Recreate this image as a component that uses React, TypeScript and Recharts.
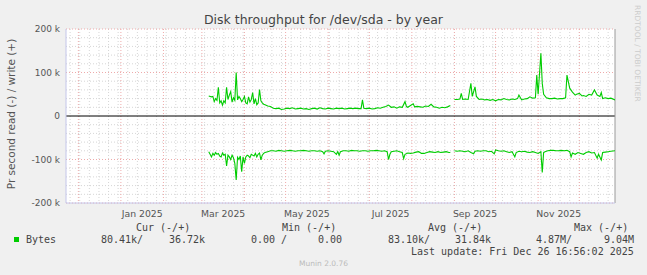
import React from 'react';
import { LineChart, Line, XAxis, YAxis, CartesianGrid, ReferenceLine } from 'recharts';

// x axis is "days since 2024-11-22", the munin year view covers 400 days up to Dec 26 2025
const DAYS = 400;
const monthStarts = [9, 40, 71, 99, 130, 160, 191, 221, 252, 283, 313, 344, 374, 405];
const monthLabels = ['Jan 2025', 'Mar 2025', 'May 2025', 'Jul 2025', 'Sep 2025', 'Nov 2025'];
const labelMonthIdx = [1, 3, 5, 7, 9, 11];
const firstMonday = 3;

const yTicks = [-200000, -100000, 0, 100000, 200000];

// write (+), kB/s per day, null = no data
const writeSeries: [number, number | null][] = [
  [104, 46], [106, 44], [107, 45], [108, 33], [109, 40], [110, 36], [111, 66], [112, 30], [113, 35], [114, 25],
  [115, 35], [116, 30], [117, 66], [118, 38], [119, 48], [120, 56], [121, 32], [122, 42], [123, 36], [124, 100],
  [125, 37], [126, 45], [127, 40], [128, 33], [129, 38], [130, 45], [131, 30], [132, 28], [133, 44], [134, 32],
  [135, 38], [136, 54], [137, 28], [138, 40], [139, 26], [140, 30], [141, 61], [142, 35], [143, 30], [144, 27],
  [145, 26], [147, 23], [149, 22], [151, 18], [153, 17], [155, 18], [157, 15], [159, 16], [161, 18], [163, 17],
  [165, 19], [167, 16], [169, 17], [171, 18], [173, 16], [175, 17], [177, 15], [179, 17], [181, 18], [183, 16],
  [185, 19], [187, 17], [189, 16], [191, 18], [193, 17], [195, 16], [197, 18], [199, 17], [201, 18], [203, 16],
  [205, 17], [207, 18], [209, 17], [211, 18], [213, 17], [215, 17], [216, 37], [217, 18], [219, 17], [221, 18],
  [223, 16], [225, 17], [227, 19], [229, 18], [231, 20], [233, 22], [235, 25], [237, 20], [239, 21], [241, 18],
  [243, 21], [245, 20], [247, 33], [248, 22], [249, 20], [251, 24], [253, 28], [254, 21], [256, 22], [258, 21],
  [260, 20], [262, 23], [264, 22], [266, 27], [268, 21], [270, 20], [272, 18], [274, 20], [276, 19], [278, 21],
  [280, 24], [281, null], [283, 38], [285, 38], [287, 39], [288, 52], [289, 38], [291, 39], [293, 38], [295, 75],
  [296, 45], [298, 67], [299, 45], [301, 38], [303, 39], [305, 37], [307, 38], [309, 36], [311, 38], [313, 35],
  [315, 38], [317, 37], [319, 40], [321, 38], [323, 37], [325, 39], [327, 38], [329, 40], [330, 48], [332, 37],
  [334, 39], [336, 40], [338, 44], [340, 41], [342, 42], [343, 94], [344, 50], [346, 144], [347, 75], [348, 50],
  [350, 42], [352, 40], [354, 40], [356, 41], [358, 39], [360, 40], [362, 40], [364, 42], [365, 94], [367, 64],
  [369, 55], [371, 48], [372, 50], [374, 52], [376, 46], [377, 47], [379, 45], [381, 50], [383, 48], [385, 60],
  [387, 48], [389, 45], [390, 54], [391, 40], [393, 42], [395, 40], [397, 41], [400, 37],
];

// read (-), drawn below zero
const readSeries: [number, number | null][] = [
  [104, -82], [105, -88], [106, -94], [107, -86], [108, -90], [109, -84], [110, -88], [111, -86], [112, -92], [113, -94],
  [114, -85], [115, -90], [116, -88], [117, -115], [118, -90], [119, -94], [120, -100], [121, -90], [122, -96], [123, -109],
  [124, -147], [125, -95], [126, -100], [127, -92], [128, -128], [129, -94], [130, -109], [131, -94], [132, -90], [133, -92],
  [134, -96], [135, -88], [136, -90], [137, -92], [138, -86], [139, -94], [140, -88], [141, -85], [142, -101], [143, -90],
  [144, -86], [145, -84], [147, -82], [149, -80], [151, -80], [153, -81], [155, -79], [157, -80], [159, -81], [161, -80],
  [163, -79], [165, -80], [167, -81], [169, -80], [171, -80], [173, -79], [175, -80], [177, -81], [179, -80], [181, -80],
  [183, -81], [185, -80], [187, -82], [188, -87], [189, -81], [191, -80], [193, -81], [195, -82], [197, -88], [198, -82],
  [199, -90], [200, -82], [202, -80], [204, -80], [206, -81], [208, -79], [210, -80], [212, -80], [214, -81], [216, -80],
  [218, -80], [220, -81], [222, -80], [224, -80], [226, -79], [228, -80], [230, -81], [232, -80], [234, -82], [235, -100],
  [236, -88], [237, -82], [239, -81], [241, -80], [243, -82], [245, -84], [246, -98], [247, -88], [249, -85], [251, -86],
  [253, -85], [255, -83], [257, -82], [259, -86], [261, -86], [263, -84], [265, -82], [267, -83], [269, -84], [271, -82],
  [273, -84], [275, -83], [277, -82], [279, -84], [280, -84], [281, null], [283, -80], [285, -81], [287, -80], [289, -81],
  [291, -82], [293, -80], [295, -84], [297, -87], [298, -81], [300, -80], [302, -81], [304, -80], [306, -80], [308, -82],
  [310, -81], [312, -87], [313, -78], [315, -80], [317, -81], [319, -80], [321, -82], [323, -84], [325, -82], [327, -94],
  [328, -84], [330, -81], [332, -82], [334, -81], [336, -83], [338, -84], [340, -82], [342, -84], [344, -86], [346, -82],
  [347, -130], [348, -84], [349, -82], [351, -80], [353, -79], [355, -79], [357, -80], [359, -80], [361, -79], [363, -80],
  [365, -79], [367, -82], [368, -94], [369, -85], [371, -88], [373, -84], [375, -86], [377, -88], [379, -84], [381, -82],
  [383, -85], [385, -84], [387, -97], [388, -88], [390, -101], [391, -84], [393, -83], [395, -82], [397, -81], [400, -80],
];

const legendHeaders = ['Cur (-/+)', 'Min (-/+)', 'Avg (-/+)', 'Max (-/+)'];
const readStats = ['80.41k/', '0.00 /', '83.10k/', '4.87M/'];
const writeStats = ['36.72k', '0.00', '31.84k', '9.04M'];
const lastUpdate = 'Last update: Fri Dec 26 16:56:02 2025';

const GREEN = '#00cc00';
const sans = 'DejaVu Sans, sans-serif';
const mono = 'DejaVu Sans Mono, monospace';

const toRows = (s: [number, number | null][]) => s.map(([day, v]) => ({ day, v: v === null ? null : v * 1000 }));

const YLabel = ({ viewBox }: any) => {
  const cx = viewBox.x + 5;
  const cy = viewBox.y + viewBox.height / 2 - 2;
  return (
    <text x={cx} y={cy} transform={`rotate(-90 ${cx} ${cy})`} textAnchor="middle" dominantBaseline="central"
      fontFamily={sans} fontSize={10.5} fill="#555">
      Pr second read (-) / write (+)
    </text>
  );
};

export default function App() {
  const writeData = toRows(writeSeries);
  const readData = toRows(readSeries);
  const labelTicks = labelMonthIdx.map(i => (monthStarts[i] + monthStarts[i + 1]) / 2);
  const majorX = monthStarts.filter(d => d < DAYS);
  const minorX: number[] = [];
  for (let d = firstMonday; d < DAYS; d += 7) minorX.push(d);
  const minorY: number[] = [];
  for (let v = -180000; v <= 180000; v += 20000) if (v % 100000 !== 0) minorY.push(v);

  const mono10: React.CSSProperties = { position: 'absolute', fontFamily: mono, fontSize: 10, lineHeight: '12px', color: '#444', whiteSpace: 'pre' };
  const headerLeft = [136, 282, 428, 574];
  const readLeft = [101, 251, 388, 536];
  const writeLeft = [169, 318, 455, 604];

  return (
    <div style={{ position: 'absolute', left: 0, top: 0, width: 647, height: 275, background: '#f0f0f0', overflow: 'hidden' }}>
      <LineChart width={647} height={275} margin={{ top: 29, right: 32, bottom: 52, left: 6 }}>
        <CartesianGrid fill="#ffffff" stroke="#d6d6d6" strokeDasharray="1 2"
          horizontalValues={minorY} verticalValues={minorX} />
        <CartesianGrid fill="none" stroke="#eeaaaa" strokeDasharray="1 2"
          horizontalValues={[-200000, -100000, 100000, 200000]} verticalValues={majorX} />
        <XAxis type="number" dataKey="day" domain={[0, DAYS]} allowDataOverflow ticks={labelTicks} interval={0}
          tickFormatter={(v: number) => monthLabels[labelTicks.indexOf(v)] ?? ''}
          tickLine={false} tickSize={4} tickMargin={3} height={20}
          axisLine={{ stroke: '#c4c6ea' }}
          tick={{ fontFamily: sans, fontSize: 9.3, fill: '#555' }} />
        <YAxis type="number" domain={[-200000, 200000]} ticks={yTicks} interval={0}
          tickFormatter={(v: number) => (v === 0 ? '0' : `${v / 1000} k`)}
          tickLine={false} tickSize={4} tickMargin={2} width={60}
          axisLine={{ stroke: '#c4c6ea' }}
          tick={{ fontFamily: sans, fontSize: 9, fill: '#555' }}
          label={<YLabel />} />
        <ReferenceLine y={0} stroke="#000000" strokeWidth={1} />
        <ReferenceLine x={DAYS} stroke="#9a9a9a" strokeWidth={1} />
        <Line data={writeData} dataKey="v" type="linear" stroke={GREEN} strokeWidth={1.1} dot={false}
          isAnimationActive={false} connectNulls={false} />
        <Line data={readData} dataKey="v" type="linear" stroke={GREEN} strokeWidth={1.1} dot={false}
          isAnimationActive={false} connectNulls={false} />
      </LineChart>

      <div style={{ position: 'absolute', left: 0, top: 12, width: 647, textAlign: 'center', fontFamily: sans, fontSize: 12.5, lineHeight: '15px', color: '#444' }}>
        Disk throughput for /dev/sda - by year
      </div>
      <div style={{ position: 'absolute', left: 633, top: 5, fontFamily: sans, fontSize: 7.5, lineHeight: '9px', color: '#cccccc', writingMode: 'vertical-rl', whiteSpace: 'nowrap' }}>
        RRDTOOL / TOBI OETIKER
      </div>

      {legendHeaders.map((h, i) => (
        <div key={h} style={{ ...mono10, left: headerLeft[i], top: 222 }}>{h}</div>
      ))}
      <div style={{ position: 'absolute', left: 14, top: 237, width: 5, height: 5, background: GREEN }} />
      <div style={{ ...mono10, left: 26, top: 234 }}>Bytes</div>
      {readStats.map((s, i) => (
        <div key={'r' + i} style={{ ...mono10, left: readLeft[i], top: 234 }}>{s}</div>
      ))}
      {writeStats.map((s, i) => (
        <div key={'w' + i} style={{ ...mono10, left: writeLeft[i], top: 234 }}>{s}</div>
      ))}
      <div style={{ ...mono10, left: 411, top: 246 }}>{lastUpdate}</div>
      <div style={{ position: 'absolute', left: 0, width: 647, top: 259, textAlign: 'center', fontFamily: sans, fontSize: 7.5, lineHeight: '10px', color: '#bbbbbb' }}>
        Munin 2.0.76
      </div>
    </div>
  );
}
